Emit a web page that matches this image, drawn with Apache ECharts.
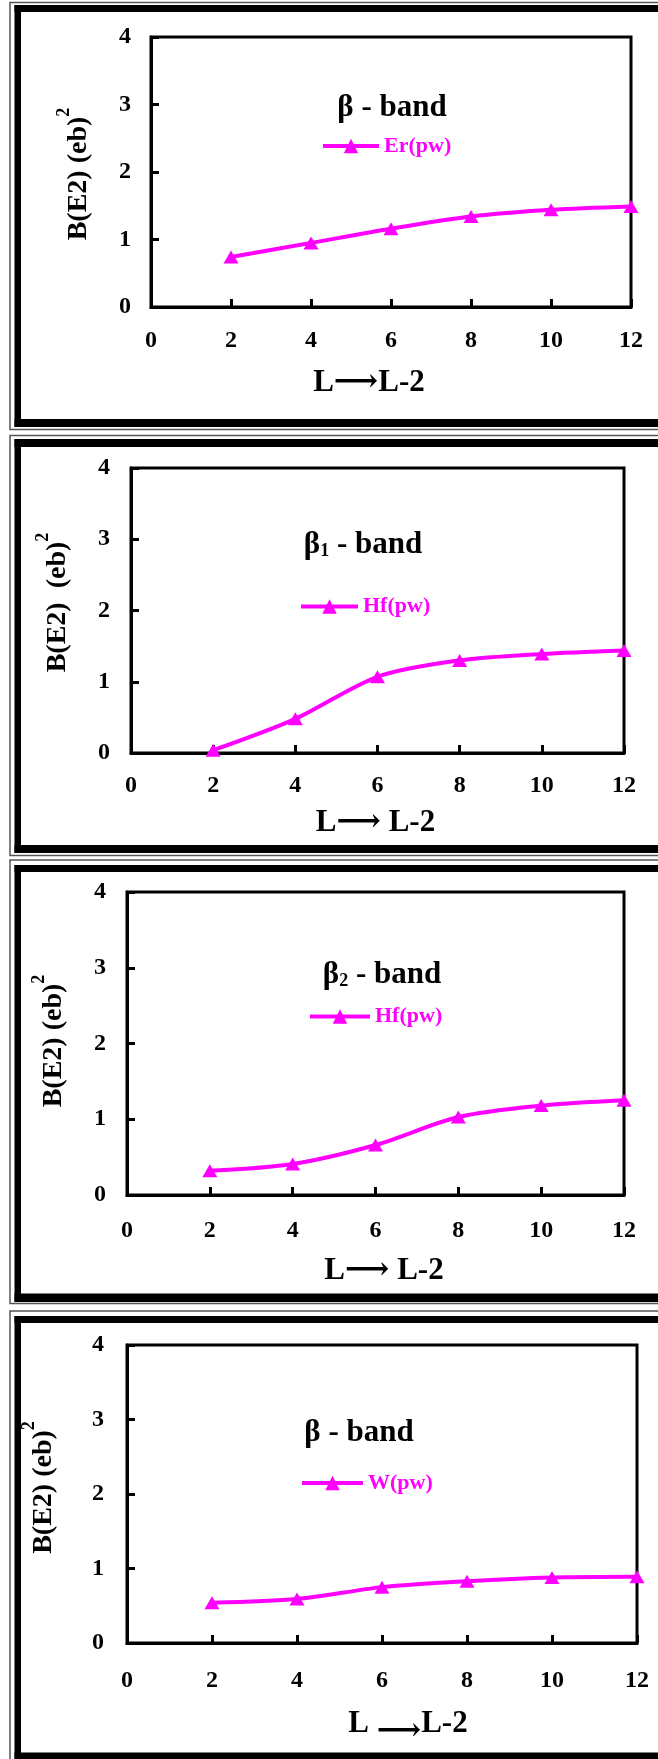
<!DOCTYPE html>
<html>
<head>
<meta charset="utf-8">
<script src="https://cdn.jsdelivr.net/npm/echarts@6/dist/echarts.min.js"></script>
<style>
html,body{margin:0;padding:0;background:#ffffff;}
#chart{width:658px;height:1759px;}
</style>
</head>
<body>
<div id="chart"></div>
<script>
// ---------- data ----------
const transitionL = [2, 4, 6, 8, 10, 12];          // L -> L-2
const xTickLabels = ['0', '2', '4', '6', '8', '10', '12'];
const yTickLabels = ['0', '1', '2', '3', '4'];
const erBeta   = [0.74, 0.95, 1.16, 1.34, 1.44, 1.49];
const hfBeta1  = [0.04, 0.48, 1.07, 1.30, 1.39, 1.44];
const hfBeta2  = [0.32, 0.41, 0.66, 1.03, 1.18, 1.25];
const wBeta    = [0.54, 0.59, 0.75, 0.83, 0.88, 0.89];
const seriesNames = ['Er(pw)', 'Hf(pw)', 'Hf(pw)', 'W(pw)'];
const bandTitles = ['{b|β - band}', '{b|β}{s|1}{b| - band}', '{b|β}{s|2}{b| - band}', '{b|β - band}'];
const yAxisNames = ['{m|B(E2) (eb)}{s|2}', '{m|B(E2)  (eb)}{s|2}', '{m|B(E2) (eb)}{s|2}', '{m|B(E2) (eb)}{s|2}'];
const xAxisNames = ['L⟶L-2', 'L⟶ L-2', 'L⟶ L-2', 'L {a|⟶}L-2'];
const allValues = [erBeta, hfBeta1, hfBeta2, wBeta];

// ---------- layout / style ----------
const FONT = "'Liberation Serif', 'Times New Roman', 'DejaVu Serif', serif";
const MAGENTA = '#FF00FF';
const layout = [
  { grid: {left: 151, top: 37, width: 480, height: 270}, yGap: 48, yPad: [0, 4, 0, 0], xGap: 60, xPad: [0, 44, 0, 0],
    xMargin: 22, yMargin: 20, title: [392, 108], legend: {left: 321, top: 135, w: 56},
    frame: {thin: [2.5, 429.5], top: [5, 12], bottom: [419, 427]} },
  { grid: {left: 131, top: 468, width: 493, height: 285}, yGap: 49, yPad: [0, 0, 0, 16], xGap: 54, xPad: [0, 4, 0, 0],
    xMargin: 21, yMargin: 21, title: [363, 545], legend: {left: 299, top: 595.5, w: 57},
    frame: {thin: [435.5, 855.5], top: [439, 447], bottom: [845, 853]} },
  { grid: {left: 127, top: 892, width: 497, height: 303}, yGap: 49, yPad: [0, 0, 0, 5], xGap: 60, xPad: [0, 0, 0, 17],
    xMargin: 24, yMargin: 21, title: [382, 975], legend: {left: 308, top: 1005.5, w: 60},
    frame: {thin: [860, 1303.5], top: [865, 872], bottom: [1293.5, 1302]} },
  { grid: {left: 127, top: 1345, width: 510, height: 298}, yGap: 59, yPad: [0, 0, 0, 13], xGap: 57, xPad: [0, 0, 0, 52],
    xMargin: 26, yMargin: 23, title: [359, 1433], legend: {left: 300, top: 1472, w: 61},
    frame: {thin: [1311, 1800], top: [1316, 1323], bottom: [1752.5, 1770]} }
];

const grids = [], xAxes = [], yAxes = [], series = [], legends = [], graphics = [];

layout.forEach((p, i) => {
  grids.push(Object.assign({show: true, borderColor: '#000', borderWidth: 3, backgroundColor: 'transparent'}, p.grid));
  xAxes.push({
    type: 'value', gridIndex: i, min: 0, max: 12, interval: 2,
    axisLine: {show: true, lineStyle: {color: '#000', width: 3}},
    axisTick: {show: true, inside: true, length: 8, lineStyle: {color: '#000', width: 3}},
    splitLine: {show: false},
    axisLabel: {margin: p.xMargin, color: '#000', fontFamily: FONT, fontWeight: 'bold', fontSize: 24,
      showMinLabel: true, showMaxLabel: true,
      formatter: v => xTickLabels[Math.round(v / 2)]},
    name: xAxisNames[i], nameLocation: 'middle', nameGap: p.xGap,
    nameTextStyle: {color: '#000', fontFamily: FONT, fontWeight: 'bold', fontSize: 31, padding: p.xPad,
      rich: {a: {fontFamily: FONT, fontWeight: 'bold', fontSize: 31, color: '#000', padding: [16, 0, 0, 0]}}}
  });
  yAxes.push({
    type: 'value', gridIndex: i, min: 0, max: 4, interval: 1,
    axisLine: {show: true, lineStyle: {color: '#000', width: 3}},
    axisTick: {show: true, inside: true, length: 8, lineStyle: {color: '#000', width: 3}},
    splitLine: {show: false},
    axisLabel: {margin: p.yMargin, color: '#000', fontFamily: FONT, fontWeight: 'bold', fontSize: 24,
      formatter: v => yTickLabels[Math.round(v)]},
    name: yAxisNames[i], nameLocation: 'middle', nameRotate: 90, nameGap: p.yGap,
    nameTextStyle: {padding: p.yPad, rich: {
      m: {fontFamily: FONT, fontWeight: 'bold', fontSize: 28, lineHeight: 48, color: '#000'},
      s: {fontFamily: FONT, fontWeight: 'bold', fontSize: 18, lineHeight: 18, color: '#000', verticalAlign: 'top'}
    }}
  });
  series.push({
    type: 'line', name: seriesNames[i], xAxisIndex: i, yAxisIndex: i,
    data: transitionL.map((x, k) => [x, allValues[i][k]]),
    smooth: 0.3, symbol: 'triangle', symbolSize: [15, 13],
    lineStyle: {color: MAGENTA, width: 4}, itemStyle: {color: MAGENTA},
    clip: false
  });
  legends.push({
    data: [seriesNames[i]], left: p.legend.left, top: p.legend.top, padding: 0,
    itemWidth: p.legend.w, itemHeight: 18, selectedMode: false,
    lineStyle: {width: 4, color: MAGENTA},
    textStyle: {color: MAGENTA, fontFamily: FONT, fontWeight: 'bold', fontSize: 22}
  });
  graphics.push({
    type: 'text', x: p.title[0], y: p.title[1],
    style: {text: bandTitles[i], align: 'center', verticalAlign: 'middle', textAlign: 'center', textVerticalAlign: 'middle',
      rich: {
        b: {fontFamily: FONT, fontWeight: 'bold', fontSize: 31, lineHeight: 31, fill: '#000', color: '#000'},
        s: {fontFamily: FONT, fontWeight: 'bold', fontSize: 18, lineHeight: 18, fill: '#000', color: '#000', verticalAlign: 'bottom'}
      }}
  });
  // frame
  const f = p.frame;
  graphics.push({type: 'rect', shape: {x: 10, y: f.thin[0], width: 700, height: f.thin[1] - f.thin[0]},
    style: {fill: 'none', stroke: '#555', lineWidth: 1.5}});
  graphics.push({type: 'rect', shape: {x: 14.5, y: f.top[0], width: 700, height: f.top[1] - f.top[0]}, style: {fill: '#000'}});
  graphics.push({type: 'rect', shape: {x: 14.5, y: f.top[0], width: 6.5, height: f.bottom[1] - f.top[0]}, style: {fill: '#000'}});
  graphics.push({type: 'rect', shape: {x: 14.5, y: f.bottom[0], width: 700, height: f.bottom[1] - f.bottom[0]}, style: {fill: '#000'}});
});

const chart = echarts.init(document.getElementById('chart'), null, {renderer: 'canvas', width: 658, height: 1759});
chart.setOption({
  backgroundColor: '#ffffff',
  animation: false,
  grid: grids, xAxis: xAxes, yAxis: yAxes, series: series, legend: legends,
  graphic: graphics
});
</script>
</body>
</html>
